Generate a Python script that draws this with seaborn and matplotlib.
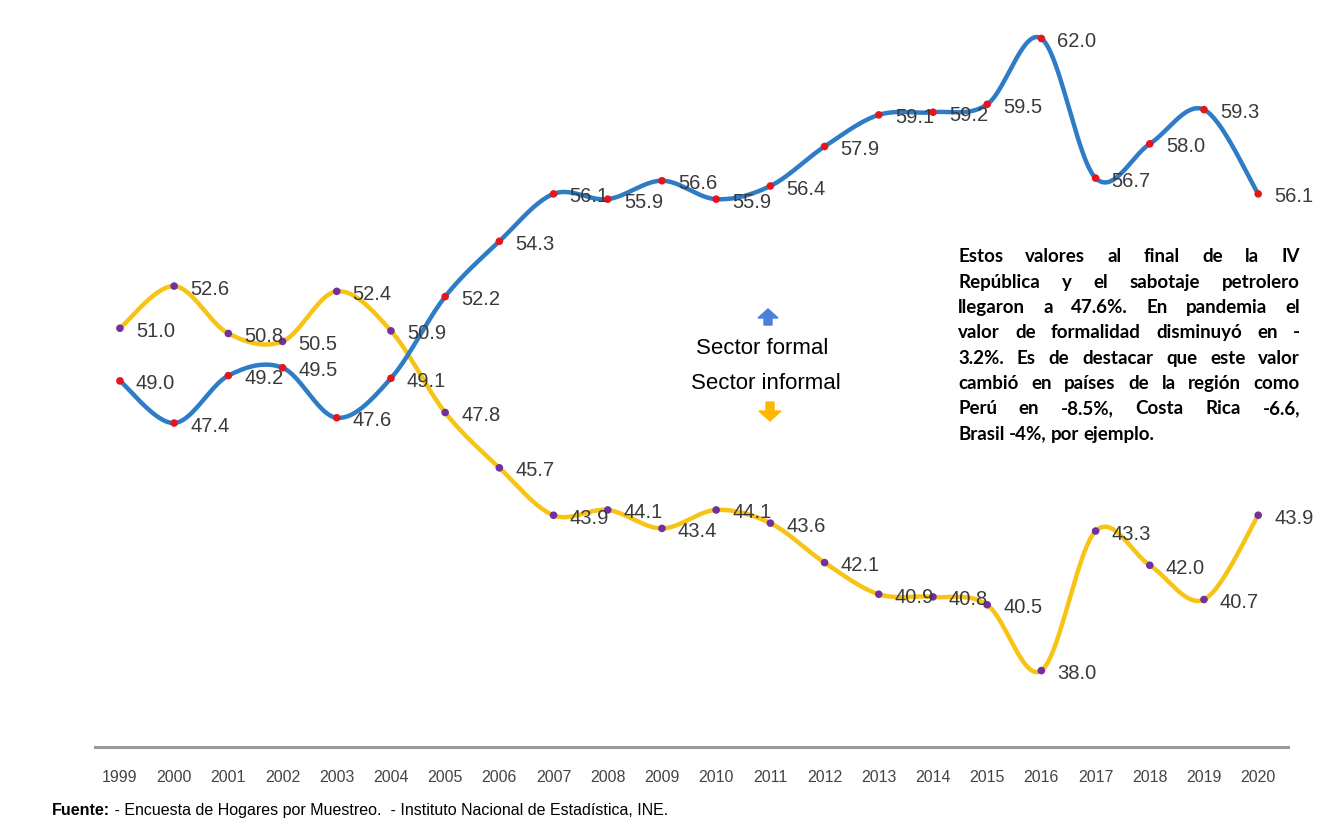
import numpy as np
import pandas as pd
import matplotlib
matplotlib.use("Agg")
import matplotlib.pyplot as plt
from matplotlib.patches import FancyArrow
import seaborn as sns

years = list(range(1999, 2021))
formal = [49.0, 47.4, 49.2, 49.5, 47.6, 49.1, 52.2, 54.3, 56.1, 55.9, 56.6,
          55.9, 56.4, 57.9, 59.1, 59.2, 59.5, 62.0, 56.7, 58.0, 59.3, 56.1]
informal = [51.0, 52.6, 50.8, 50.5, 52.4, 50.9, 47.8, 45.7, 43.9, 44.1, 43.4,
            44.1, 43.6, 42.1, 40.9, 40.8, 40.5, 38.0, 43.3, 42.0, 40.7, 43.9]
series_names = ["Sector formal", "Sector informal"]
note_lines = [
    "Estos valores al final de la IV",
    "República y el sabotaje petrolero",
    "llegaron a 47.6%. En pandemia el",
    "valor de formalidad disminuyó en -",
    "3.2%. Es de destacar que este valor",
    "cambió en países de la región como",
    "Perú en -8.5%, Costa Rica -6.6,",
    "Brasil -4%, por ejemplo.",
]
source_bold = "Fuente:"
source_text = " - Encuesta de Hogares por Muestreo.  - Instituto Nacional de Estadística, INE."

BLUE = "#2E7BC6"
YELLOW = "#F7C415"
RED = "#E8141C"
PURPLE = "#7030A0"

sns.set_theme(style="white")
narrow = ["Liberation Sans Narrow", "Liberation Sans"]
plt.rcParams["font.family"] = ["Liberation Sans", "DejaVu Sans"]


def smooth_curve(xs, ys, n=24):
    # Catmull-Rom style curve through the points (like Excel "smoothed line")
    x = np.asarray(xs, float)
    y = np.asarray(ys, float)
    px = np.concatenate([[x[0]], x, [x[-1]]])
    py = np.concatenate([[y[0]], y, [y[-1]]])
    out_x, out_y = [], []
    for i in range(len(x) - 1):
        mx0 = (px[i + 2] - px[i]) / 2
        my0 = (py[i + 2] - py[i]) / 2
        mx1 = (px[i + 3] - px[i + 1]) / 2
        my1 = (py[i + 3] - py[i + 1]) / 2
        t = np.linspace(0, 1, n, endpoint=(i == len(x) - 2))
        h00 = 2 * t**3 - 3 * t**2 + 1
        h10 = t**3 - 2 * t**2 + t
        h01 = -2 * t**3 + 3 * t**2
        h11 = t**3 - t**2
        out_x.append(h00 * x[i] + h10 * mx0 + h01 * x[i + 1] + h11 * mx1)
        out_y.append(h00 * y[i] + h10 * my0 + h01 * y[i + 1] + h11 * my1)
    return np.concatenate(out_x), np.concatenate(out_y)


W, H = 1322, 820
fig = plt.figure(figsize=(W / 100, H / 100), dpi=100)
ax = fig.add_axes([95 / W, 1 - 748 / H, (1288 - 95) / W, 748 / H])

df = pd.DataFrame({"year": years, "formal": formal, "informal": informal})

for col, lc, mc in [("informal", YELLOW, PURPLE), ("formal", BLUE, RED)]:
    sx, sy = smooth_curve(df["year"], df[col])
    sns.lineplot(x=sx, y=sy, sort=False, color=lc, lw=3.2, ax=ax, zorder=2)
    sns.scatterplot(x=df["year"], y=df[col], color=mc, s=30, edgecolor="none",
                    ax=ax, zorder=3)
    for xv, yv in zip(df["year"], df[col]):
        ax.annotate(f"{yv:.1f}", (xv, yv), xytext=(16, -2), textcoords="offset pixels",
                    ha="left", va="center", fontsize=14.5, color="#3a3a3a", zorder=4)

ax.set_xlim(1998.54, 2020.55)
ax.set_ylim(35.1, 63.5)
ax.set_xticks(years)
ax.set_xticklabels([str(y) for y in years], family=narrow, fontsize=11.5, color="#444444")
ax.tick_params(axis="x", length=0, pad=16)
ax.set_yticks([])
for s in ["top", "left", "right"]:
    ax.spines[s].set_visible(False)
ax.spines["bottom"].set_color("#9a9a9a")
ax.spines["bottom"].set_linewidth(2.2)
ax.set_xlabel("")
ax.set_ylabel("")

# legend-like labels with arrows
fig.text(762 / W, 1 - 349 / H, series_names[0], ha="center", va="center", fontsize=16, color="black")
fig.text(766 / W, 1 - 384 / H, series_names[1], ha="center", va="center", fontsize=16, color="black")
fig.patches.append(FancyArrow(768 / W, 1 - 326 / H, 0, 16 / H, width=8 / W,
                              head_width=20 / W, head_length=9 / H,
                              length_includes_head=True, color="#4A80D8",
                              transform=fig.transFigure, figure=fig))
fig.patches.append(FancyArrow(770 / W, 1 - 403 / H, 0, -19 / H, width=8 / W,
                              head_width=22 / W, head_length=10 / H,
                              length_includes_head=True, color="#FFB800",
                              transform=fig.transFigure, figure=fig))

# justified note on the right
renderer = fig.canvas.get_renderer()
box_left, box_right = 958, 1300
box_w = box_right - box_left
note_font = dict(family=["Lato", "DejaVu Sans"], weight="bold", fontsize=13.5, color="black")


def word_width(word):
    t = fig.text(0, 0, word, **note_font)
    w = t.get_window_extent(renderer).width
    t.remove()
    return w


space_w = word_width("a a") - 2 * word_width("a")
for i, line in enumerate(note_lines):
    y = 1 - (257 + i * 25.3) / H
    words = line.split(" ")
    widths = [word_width(wd) for wd in words]
    if i < len(note_lines) - 1 and len(words) > 1:
        gap = max((box_w - sum(widths)) / (len(words) - 1), space_w * 0.6)
    else:
        gap = space_w
    xpos = box_left
    for wd, ww in zip(words, widths):
        fig.text(xpos / W, y, wd, ha="left", va="center", **note_font)
        xpos += ww + gap

# source line
t1 = fig.text(52 / W, 1 - 811 / H, source_bold, family=narrow, weight="bold",
              fontsize=11.5, color="black", va="center")
bx = t1.get_window_extent(renderer).x1
fig.text(bx / W, 1 - 811 / H, source_text, family=narrow, fontsize=11.5,
         color="black", va="center")

fig.savefig("out.png", dpi=100)
